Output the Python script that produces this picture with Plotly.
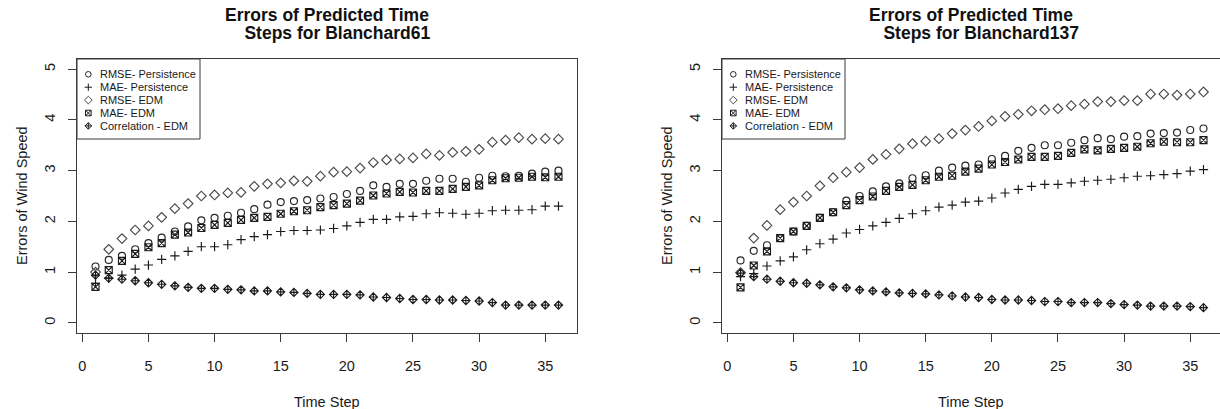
import plotly.graph_objects as go

W, H = 1220, 409

# ---- data -------------------------------------------------------------
steps = list(range(1, 37))

series_names = ["RMSE- Persistence", "MAE- Persistence", "RMSE- EDM",
                "MAE- EDM", "Correlation - EDM"]
site_names = ["Blanchard61", "Blanchard137"]

x_ticks = [0, 5, 10, 15, 20, 25, 30, 35]
y_ticks = [0, 1, 2, 3, 4, 5]

b61_rmse_persistence = [1.11, 1.24, 1.32, 1.45, 1.57, 1.68, 1.80, 1.90, 2.02, 2.07, 2.11, 2.17,
                        2.24, 2.33, 2.38, 2.40, 2.42, 2.45, 2.48, 2.54, 2.60, 2.71, 2.68, 2.74,
                        2.74, 2.80, 2.84, 2.84, 2.78, 2.86, 2.90, 2.89, 2.90, 2.94, 2.98, 3.00]
b61_mae_persistence = [0.78, 0.88, 0.94, 1.06, 1.14, 1.25, 1.32, 1.41, 1.50, 1.50, 1.54, 1.64,
                       1.70, 1.74, 1.80, 1.82, 1.82, 1.83, 1.86, 1.91, 1.98, 2.04, 2.04, 2.09,
                       2.10, 2.15, 2.17, 2.16, 2.14, 2.16, 2.21, 2.22, 2.22, 2.23, 2.30, 2.30]
b61_rmse_edm = [1.00, 1.45, 1.66, 1.83, 1.91, 2.08, 2.25, 2.35, 2.50, 2.52, 2.56, 2.57,
                2.69, 2.74, 2.76, 2.80, 2.79, 2.89, 2.97, 2.98, 3.05, 3.16, 3.21, 3.23,
                3.25, 3.33, 3.30, 3.36, 3.38, 3.42, 3.56, 3.60, 3.65, 3.62, 3.63, 3.62]
b61_mae_edm = [0.71, 1.04, 1.22, 1.36, 1.49, 1.57, 1.74, 1.78, 1.87, 1.93, 1.97, 2.03,
               2.07, 2.09, 2.15, 2.20, 2.22, 2.28, 2.32, 2.35, 2.41, 2.51, 2.55, 2.58,
               2.57, 2.60, 2.60, 2.64, 2.68, 2.71, 2.81, 2.85, 2.86, 2.88, 2.87, 2.88]
b61_corr_edm = [0.94, 0.88, 0.86, 0.83, 0.79, 0.76, 0.73, 0.70, 0.68, 0.68, 0.66, 0.65,
                0.63, 0.63, 0.61, 0.60, 0.58, 0.56, 0.56, 0.56, 0.55, 0.51, 0.50, 0.48,
                0.46, 0.46, 0.45, 0.45, 0.44, 0.43, 0.40, 0.35, 0.35, 0.35, 0.35, 0.35]

b137_rmse_persistence = [1.23, 1.42, 1.53, 1.67, 1.80, 1.91, 2.07, 2.18, 2.41, 2.50, 2.59, 2.69,
                         2.75, 2.85, 2.91, 3.00, 3.06, 3.10, 3.12, 3.23, 3.29, 3.39, 3.45, 3.50,
                         3.50, 3.55, 3.60, 3.64, 3.62, 3.67, 3.68, 3.73, 3.74, 3.75, 3.80, 3.83]
b137_mae_persistence = [0.91, 0.97, 1.12, 1.22, 1.30, 1.44, 1.56, 1.65, 1.77, 1.84, 1.91, 1.98,
                        2.06, 2.15, 2.21, 2.28, 2.32, 2.38, 2.40, 2.46, 2.56, 2.63, 2.69, 2.73,
                        2.73, 2.76, 2.79, 2.81, 2.83, 2.86, 2.89, 2.90, 2.92, 2.94, 2.99, 3.02]
b137_rmse_edm = [0.99, 1.67, 1.92, 2.23, 2.38, 2.50, 2.70, 2.86, 2.97, 3.06, 3.22, 3.32,
                 3.43, 3.53, 3.58, 3.63, 3.73, 3.80, 3.87, 3.98, 4.07, 4.11, 4.18, 4.20,
                 4.22, 4.28, 4.31, 4.36, 4.36, 4.38, 4.38, 4.51, 4.51, 4.49, 4.51, 4.55]
b137_mae_edm = [0.70, 1.13, 1.41, 1.67, 1.80, 1.91, 2.07, 2.18, 2.32, 2.42, 2.49, 2.60,
                2.68, 2.72, 2.81, 2.88, 2.90, 2.98, 3.04, 3.12, 3.17, 3.22, 3.27, 3.27,
                3.29, 3.35, 3.42, 3.40, 3.43, 3.45, 3.47, 3.54, 3.57, 3.56, 3.56, 3.60]
b137_corr_edm = [0.98, 0.91, 0.86, 0.82, 0.79, 0.78, 0.75, 0.71, 0.69, 0.65, 0.63, 0.61,
                 0.59, 0.58, 0.57, 0.55, 0.53, 0.51, 0.50, 0.46, 0.45, 0.45, 0.44, 0.42,
                 0.42, 0.40, 0.40, 0.40, 0.38, 0.36, 0.35, 0.33, 0.33, 0.33, 0.32, 0.30]

site_series = [
    [b61_rmse_persistence, b61_mae_persistence, b61_rmse_edm, b61_mae_edm, b61_corr_edm],
    [b137_rmse_persistence, b137_mae_persistence, b137_rmse_edm, b137_mae_edm, b137_corr_edm],
]

# ---- styling ----------------------------------------------------------
FONT = "Liberation Sans, Arial, sans-serif"
INK = "#1a1a1a"
FRAME = "#3a3a3a"

marker_styles = [
    dict(symbol="circle-open", size=7.0, color="#262626"),
    dict(symbol="cross-thin-open", size=6.6, color="#1a1a1a"),
    dict(symbol="diamond-open", size=7.4, color="#4a4a4a"),
    dict(symbol="square-x-open", size=7.0, color="#1a1a1a"),
    dict(symbol="diamond-cross-open", size=6.3, color="#1a1a1a"),
]
MARKER_LINE = 1.15

# panel geometry in pixels
PLOT_TOP, PLOT_BOTTOM = 59, 333
PX_PER_STEP = 500 / 37.8
panels = [dict(left=77, right=577), dict(left=722, right=1220)]

LEG_W, LEG_H = 123, 80
LEG_GLYPH_DX, LEG_TEXT_DX = 11.3, 20.5
LEG_ROW0, LEG_ROW_STEP = 15.3, 12.9


def fx(px):
    return px / W


def fy(py):
    return 1 - py / H


fig = go.Figure()
annotations = []
shapes = []
layout_axes = {}

for i, (site, values, panel) in enumerate(zip(site_names, site_series, panels)):
    xa = "x" if i == 0 else f"x{i + 1}"
    ya = "y" if i == 0 else f"y{i + 1}"
    lx = f"x{i + 3}"
    ly = f"y{i + 3}"
    left, right = panel["left"], panel["right"]
    span = (right - left) / PX_PER_STEP
    cx = (left + right) / 2
    cy = (PLOT_TOP + PLOT_BOTTOM) / 2

    axis_common = dict(
        showline=True, mirror=True, linecolor=FRAME, linewidth=1,
        showgrid=False, zeroline=False,
        ticks="outside", ticklen=8, tickwidth=1, tickcolor=FRAME,
        tickfont=dict(family=FONT, size=14.5, color=INK),
    )
    layout_axes["xaxis" if i == 0 else f"xaxis{i + 1}"] = dict(
        axis_common, domain=[fx(left), min(1.0, fx(right))], anchor=ya,
        range=[-0.4, -0.4 + span], tickvals=x_ticks, ticklabelstandoff=12,
    )
    layout_axes["yaxis" if i == 0 else f"yaxis{i + 1}"] = dict(
        axis_common, domain=[fy(PLOT_BOTTOM), fy(PLOT_TOP)], anchor=xa,
        range=[-0.2, 5.2], tickvals=y_ticks, tickangle=-90, ticklabelstandoff=7,
    )
    # hidden unit axes used to place the legend glyphs inside each panel
    layout_axes[f"xaxis{i + 3}"] = dict(overlaying=xa, anchor=ly, range=[0, 1], visible=False)
    layout_axes[f"yaxis{i + 3}"] = dict(overlaying=ya, anchor=lx, range=[0, 1], visible=False)

    for name, ys, st in zip(series_names, values, marker_styles):
        fig.add_trace(go.Scatter(
            x=steps, y=ys, mode="markers", name=name, xaxis=xa, yaxis=ya,
            marker=dict(symbol=st["symbol"], size=st["size"], color=st["color"],
                        line=dict(width=MARKER_LINE, color=st["color"])),
            hoverinfo="skip", showlegend=False,
        ))

    # legend box with glyphs and labels
    shapes.append(dict(type="rect", xref="paper", yref="paper",
                       x0=fx(left), x1=fx(left + LEG_W),
                       y0=fy(PLOT_TOP + LEG_H), y1=fy(PLOT_TOP),
                       line=dict(color=FRAME, width=1), fillcolor="rgba(0,0,0,0)"))
    plot_h = PLOT_BOTTOM - PLOT_TOP
    for k, (name, st) in enumerate(zip(series_names, marker_styles)):
        row_py = PLOT_TOP + LEG_ROW0 + k * LEG_ROW_STEP
        fig.add_trace(go.Scatter(
            x=[LEG_GLYPH_DX / (right - left)], y=[(PLOT_BOTTOM - row_py) / plot_h],
            mode="markers", xaxis=lx, yaxis=ly,
            marker=dict(symbol=st["symbol"], size=st["size"] * 0.8, color=st["color"],
                        line=dict(width=1, color=st["color"])),
            hoverinfo="skip", showlegend=False,
        ))
        annotations.append(dict(
            text=name, xref="paper", yref="paper", x=fx(left + LEG_TEXT_DX), y=fy(row_py),
            xanchor="left", yanchor="middle", showarrow=False,
            font=dict(family=FONT, size=11, color=INK),
        ))

    # titles
    annotations.append(dict(
        text="Errors of Predicted Time", xref="paper", yref="paper",
        x=fx(cx), y=fy(15), xanchor="center", yanchor="middle", showarrow=False,
        font=dict(family=FONT, size=17.5, color="#111111", weight="bold"),
    ))
    annotations.append(dict(
        text="\u00a0\u00a0\u00a0\u00a0Steps for " + site, xref="paper", yref="paper",
        x=fx(cx), y=fy(33), xanchor="center", yanchor="middle", showarrow=False,
        font=dict(family=FONT, size=17.5, color="#111111", weight="bold"),
    ))
    # axis titles
    annotations.append(dict(
        text="Time Step", xref="paper", yref="paper", x=fx(cx), y=fy(401.5),
        xanchor="center", yanchor="middle", showarrow=False,
        font=dict(family=FONT, size=14.5, color=INK),
    ))
    annotations.append(dict(
        text="Errors of Wind Speed", xref="paper", yref="paper", x=fx(left - 55), y=fy(cy),
        xanchor="center", yanchor="middle", showarrow=False, textangle=-90,
        font=dict(family=FONT, size=14.5, color=INK),
    ))

fig.update_layout(
    width=W, height=H, margin=dict(l=0, r=0, t=0, b=0),
    paper_bgcolor="white", plot_bgcolor="white",
    showlegend=False, hovermode=False,
    annotations=annotations, shapes=shapes,
    **layout_axes,
)

fig.write_html("out.html", config={"displayModeBar": False})
